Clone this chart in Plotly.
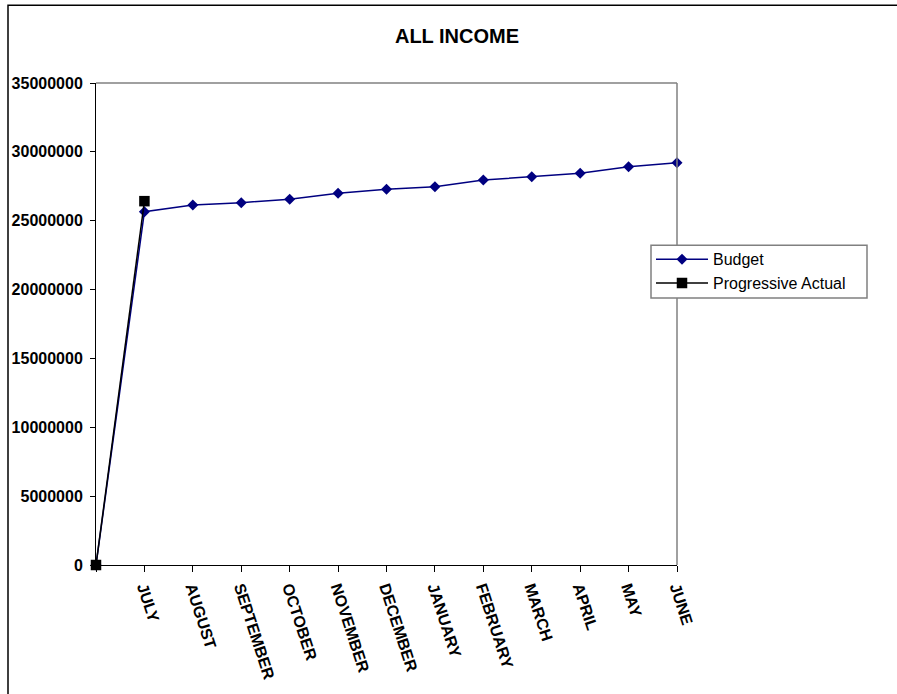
import plotly.graph_objects as go

categories = ["", "JULY", "AUGUST", "SEPTEMBER", "OCTOBER", "NOVEMBER", "DECEMBER",
              "JANUARY", "FEBRUARY", "MARCH", "APRIL", "MAY", "JUNE"]
budget = [0, 25650000, 26140000, 26310000, 26560000, 26990000, 27290000,
          27460000, 27950000, 28190000, 28440000, 28920000, 29210000]
actual = [0, 26420000, None, None, None, None, None, None, None, None, None, None, None]
y_ticks = [0, 5000000, 10000000, 15000000, 20000000, 25000000, 30000000, 35000000]

FONT = "Liberation Sans, Arial, sans-serif"

# plot-area pixel geometry (for paper-coordinate conversion of decorations)
L, R, T, B = 96, 677, 83, 567
def px(x):
    return (x - L) / (R - L)
def py(y):
    return (B - y) / (B - T)

fig = go.Figure()
fig.add_trace(go.Scatter(
    x=categories, y=budget, name="Budget", mode="lines+markers",
    line=dict(color="#000080", width=1.5),
    marker=dict(symbol="diamond", size=8.5, color="#000080"),
    cliponaxis=False,
))
fig.add_trace(go.Scatter(
    x=categories, y=actual, name="Progressive Actual", mode="lines+markers",
    line=dict(color="#000000", width=1.5),
    marker=dict(symbol="square", size=10.5, color="#000000"),
    cliponaxis=False, connectgaps=False,
))

fig.update_layout(
    width=897, height=694,
    margin=dict(l=L, r=897 - R, t=T, b=694 - B),
    paper_bgcolor="white", plot_bgcolor="white",
    font=dict(family=FONT, size=16, color="black"),
    title=dict(text="<b>ALL INCOME</b>", x=457 / 897, xref="container", xanchor="center",
               y=1 - 35.5 / 694, yref="container", yanchor="middle",
               font=dict(family=FONT, size=20, color="black")),
    showlegend=True,
    legend=dict(x=px(651), y=py(243), xanchor="left", yanchor="top",
                borderwidth=0, bgcolor="rgba(0,0,0,0)",
                font=dict(family=FONT, size=16, color="black"),
                tracegroupgap=0, itemwidth=52),
    xaxis=dict(
        type="category", range=[0, len(categories) - 1],
        showgrid=False, zeroline=False,
        showline=True, linecolor="black", linewidth=1,
        ticks="outside", ticklen=6, tickcolor="black", tickwidth=1,
        tickangle=72,
        tickfont=dict(family=FONT, size=16, color="black", weight="bold"),
    ),
    yaxis=dict(
        range=[0, 35000000], tickvals=y_ticks, tickformat="d",
        showgrid=False, zeroline=False,
        showline=True, linecolor="black", linewidth=1,
        ticks="outside", ticklen=5, tickcolor="black", tickwidth=1,
        ticklabelstandoff=4,
        tickfont=dict(family=FONT, size=16, color="black", weight="bold"),
    ),
    shapes=[
        dict(type="line", xref="paper", yref="paper", x0=0, x1=1, y0=1, y1=1,
             line=dict(color="#808080", width=1.5)),
        dict(type="line", xref="paper", yref="paper", x0=1, x1=1, y0=0, y1=1,
             line=dict(color="#808080", width=1.5)),
        dict(type="rect", xref="paper", yref="paper",
             x0=px(651), x1=px(867), y0=py(299), y1=py(246),
             fillcolor="white", line=dict(color="#808080", width=1.5), layer="above"),
        dict(type="rect", xref="paper", yref="paper",
             x0=px(8), x1=px(905), y0=py(705), y1=py(5),
             line=dict(color="black", width=1.5), layer="below"),
    ],
)

fig.write_html("out.html")
